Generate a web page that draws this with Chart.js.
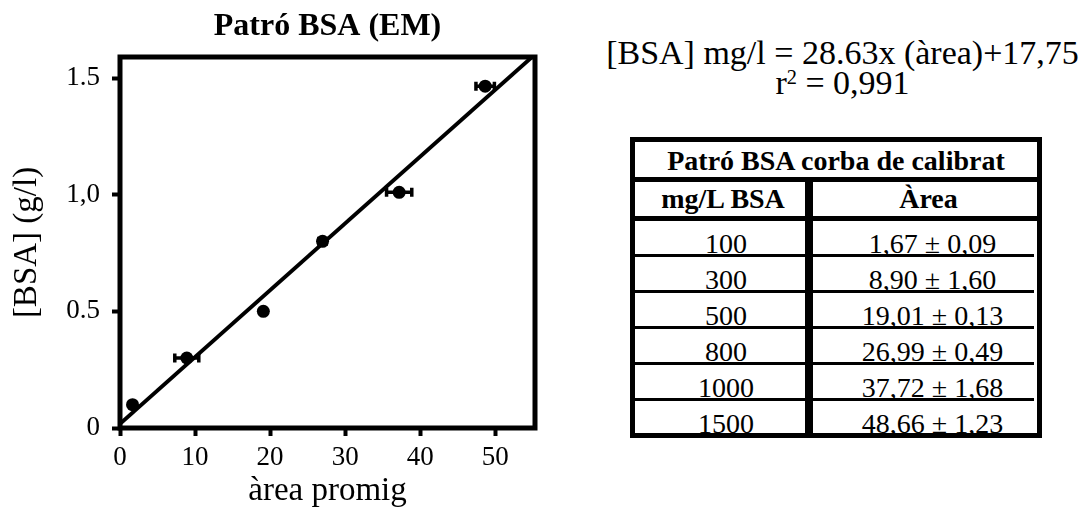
<!DOCTYPE html>
<html>
<head>
<meta charset="utf-8">
<script src="https://cdn.jsdelivr.net/npm/chart.js@4/dist/chart.umd.min.js"></script>
<style>
  html, body { margin:0; padding:0; background:#fff; }
  body { width:1085px; height:511px; position:relative; overflow:hidden; font-family:'Liberation Serif', serif; color:#000; }
  #chartBox { position:absolute; left:0; top:0; width:570px; height:511px; }
  .eq { position:absolute; left:590px; width:505px; text-align:center; font-size:34px; line-height:30px; white-space:nowrap; }
  .eq sup { font-size:60%; line-height:0; vertical-align:baseline; position:relative; top:-0.5em; }
  #tbl { position:absolute; left:630px; top:137px; width:412px; height:301px; border:5px solid #000; box-sizing:border-box;
         display:grid; grid-template-columns:170px 8px 224px; grid-template-rows:40px 39px 36px 36px 36px 36px 36px 32px; font-size:28px; line-height:28px; }
  #tbl > div { box-sizing:border-box; white-space:nowrap; overflow:visible; }
  .ttl { grid-column:1 / span 3; border-bottom:5px solid #000; text-align:center; font-weight:bold; padding-top:4.5px; }
  .hd { border-bottom:5px solid #000; text-align:center; font-weight:bold; padding-top:2.5px; }
  .hdL { padding-left:6px; }
  .hdR { padding-left:7px; }
  .div { background:#000; grid-column:2; grid-row:2 / span 7; }
  .c { text-align:center; padding-top:8.5px; border-bottom:3px solid #000; }
  .cL { padding-left:12px; }
  .cR { padding-left:18px; margin-right:3px; }
  .last { border-bottom:none; }
</style>
</head>
<body>
<div id="chartBox"><canvas id="c" width="570" height="511"></canvas></div>

<div class="eq" id="eq1" style="top:38px;">[BSA] mg/l = 28.63x (àrea)+17,75</div>
<div class="eq" id="eq2" style="top:68px;">r<sup>2</sup> = 0,991</div>

<div id="tbl"></div>

<script>
// ---- data ----
const chartTitle = 'Patró BSA (EM)';
const xAxisTitle = 'àrea promig';
const yAxisTitle = '[BSA] (g/l)';
const xTickVals = [0, 10, 20, 30, 40, 50];
const xTickLabels = ['0', '10', '20', '30', '40', '50'];
const yTickVals = [0, 0.5, 1.0, 1.5];
const yTickLabels = ['0', '0.5', '1,0', '1.5'];
const areaMean = [1.67, 8.9, 19.1, 26.99, 37.2, 48.66];
const areaErr = [0.09, 1.60, 0.13, 0.49, 1.68, 1.23];
const bsaConc = [0.10, 0.30, 0.50, 0.80, 1.01, 1.465];
const fitX = [0, 55.3];
const fitY = [0.0178, 1.601];
const tableTitle = 'Patró BSA corba de calibrat';
const tableHeaders = ['mg/L BSA', 'Àrea'];
const tableConc = ['100', '300', '500', '800', '1000', '1500'];
const tableArea = ['1,67 ± 0,09', '8,90 ± 1,60', '19,01 ± 0,13', '26,99 ± 0,49', '37,72 ± 1,68', '48,66 ± 1,23'];

// ---- table ----
(function buildTable(){
  const t = document.getElementById('tbl');
  let h = '<div class="ttl">' + tableTitle + '</div>';
  h += '<div class="hd hdL" style="grid-column:1;grid-row:2">' + tableHeaders[0] + '</div>';
  h += '<div class="div"></div>';
  h += '<div class="hd hdR" style="grid-column:3;grid-row:2">' + tableHeaders[1] + '</div>';
  tableConc.forEach((c, i) => {
    const last = i === tableConc.length - 1 ? ' last' : '';
    h += '<div class="c cL' + last + '" style="grid-column:1;grid-row:' + (i + 3) + '">' + c + '</div>';
    h += '<div class="c cR' + last + '" style="grid-column:3;grid-row:' + (i + 3) + '">' + tableArea[i] + '</div>';
  });
  t.innerHTML = h;
})();

// ---- chart ----
const FONT = "'Liberation Serif', serif";

const framePlugin = {
  id: 'frame',
  afterDraw(chart) {
    const { ctx, chartArea: a } = chart;
    ctx.save();
    ctx.strokeStyle = '#000';
    ctx.lineWidth = 5;
    ctx.strokeRect(a.left, a.top, a.right - a.left, a.bottom - a.top);
    ctx.restore();
  }
};

const errorBarPlugin = {
  id: 'errorBars',
  beforeDatasetsDraw(chart) {
    const { ctx, scales: { x, y } } = chart;
    ctx.save();
    ctx.strokeStyle = '#000';
    ctx.lineWidth = 3.5;
    areaMean.forEach((m, i) => {
      const yp = y.getPixelForValue(bsaConc[i]);
      const x1 = x.getPixelForValue(m - areaErr[i]);
      const x2 = x.getPixelForValue(m + areaErr[i]);
      ctx.beginPath();
      ctx.moveTo(x1, yp); ctx.lineTo(x2, yp);
      ctx.moveTo(x1, yp - 4.5); ctx.lineTo(x1, yp + 4.5);
      ctx.moveTo(x2, yp - 4.5); ctx.lineTo(x2, yp + 4.5);
      ctx.stroke();
    });
    ctx.restore();
  }
};

new Chart(document.getElementById('c'), {
  type: 'scatter',
  data: {
    datasets: [
      {
        label: 'ajust',
        data: fitX.map((x, i) => ({ x, y: fitY[i] })),
        showLine: true, borderColor: '#000', borderWidth: 4, pointRadius: 0, order: 2
      },
      {
        label: 'BSA',
        data: areaMean.map((x, i) => ({ x, y: bsaConc[i] })),
        pointRadius: 6.5, backgroundColor: '#000', borderColor: '#000', borderWidth: 0, order: 1
      }
    ]
  },
  options: {
    responsive: false,
    animation: false,
    layout: { padding: { left: 0, right: 35, top: 0, bottom: 0 } },
    plugins: {
      legend: { display: false },
      tooltip: { enabled: false },
      title: {
        display: true, text: chartTitle, fullSize: false, color: '#000',
        font: { family: FONT, size: 32, weight: 'bold', lineHeight: 1.2 },
        padding: { top: 8, bottom: 10.6 }
      }
    },
    scales: {
      x: {
        type: 'linear', min: 0, max: 55.3,
        afterBuildTicks: s => { s.ticks = xTickVals.map(v => ({ value: v })); },
        afterFit: s => { s.height = 83; },
        ticks: { callback: (v, i) => xTickLabels[i], color: '#000', font: { family: FONT, size: 27 }, padding: 6, maxRotation: 0, autoSkip: false },
        grid: { drawOnChartArea: false, drawTicks: true, tickLength: 8, tickWidth: 4, tickColor: '#000' },
        border: { display: false },
        title: { display: true, text: xAxisTitle, color: '#000', font: { family: FONT, size: 33 }, padding: { top: 0, bottom: 0 } }
      },
      y: {
        type: 'linear', min: 0, max: 1.59,
        afterBuildTicks: s => { s.ticks = yTickVals.map(v => ({ value: v })); },
        afterFit: s => { s.width = 120; },
        ticks: { callback: (v, i) => yTickLabels[i], color: '#000', font: { family: FONT, size: 27 }, padding: 12 },
        grid: { drawOnChartArea: false, drawTicks: true, tickLength: 8, tickWidth: 4, tickColor: '#000' },
        border: { display: false },
        title: { display: true, text: yAxisTitle, color: '#000', font: { family: FONT, size: 33 }, padding: { top: 8, bottom: 0 } }
      }
    }
  },
  plugins: [framePlugin, errorBarPlugin]
});
</script>
</body>
</html>
